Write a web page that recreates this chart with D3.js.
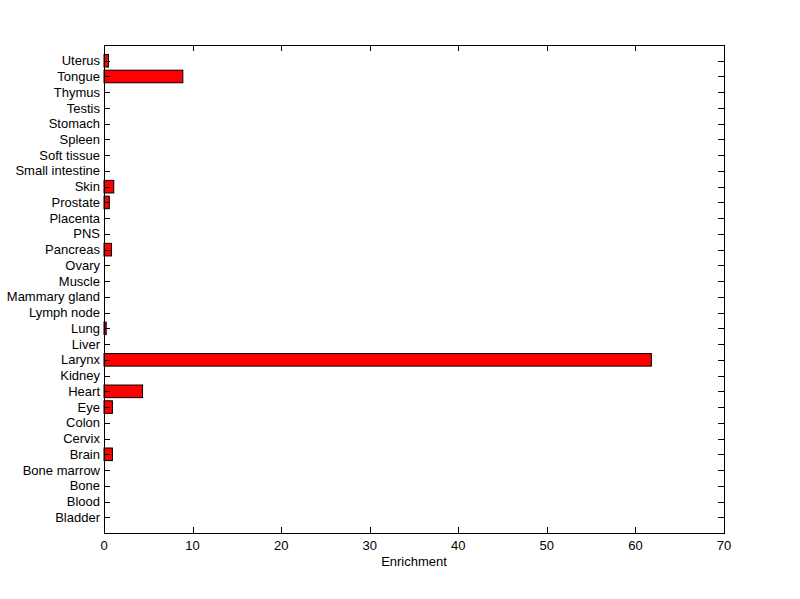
<!DOCTYPE html>
<html>
<head>
<meta charset="utf-8">
<script src="https://cdn.jsdelivr.net/npm/d3@7"></script>
<style>
  body { margin: 0; background: #fff; }
  text { font-family: "Liberation Sans", Arial, sans-serif; font-size: 13px; fill: #000; }
</style>
</head>
<body>
<div id="chart"></div>
<script>
// Categories, bottom to top
const tissues = ["Bladder", "Blood", "Bone", "Bone marrow", "Brain", "Cervix", "Colon", "Eye",
  "Heart", "Kidney", "Larynx", "Liver", "Lung", "Lymph node", "Mammary gland", "Muscle",
  "Ovary", "Pancreas", "PNS", "Placenta", "Prostate", "Skin", "Small intestine",
  "Soft tissue", "Spleen", "Stomach", "Testis", "Thymus", "Tongue", "Uterus"];
const enrichment = [0, 0, 0, 0, 0.95, 0, 0, 0.95,
  4.35, 0, 61.8, 0, 0.25, 0, 0, 0,
  0, 0.85, 0, 0, 0.6, 1.1, 0,
  0, 0, 0, 0, 0, 8.9, 0.5];
const xTicks = [0, 10, 20, 30, 40, 50, 60, 70];

const W = 800, H = 599;
const mLeft = 104, mRight = 724, mTop = 45, mBottom = 533;

const svg = d3.select("#chart").append("svg")
  .attr("width", W).attr("height", H);

const x = d3.scaleLinear().domain([0, 70]).range([mLeft, mRight]);
const y = d3.scaleLinear().domain([0, tissues.length + 1]).range([mBottom, mTop]);
const barH = (y(0) - y(0.8));

// bars
svg.selectAll("rect.bar")
  .data(enrichment)
  .enter()
  .append("rect")
  .attr("class", "bar")
  .attr("x", x(0))
  .attr("y", (d, i) => y(i + 1) - barH / 2)
  .attr("width", d => x(d) - x(0))
  .attr("height", barH)
  .attr("fill", "#ff0000")
  .attr("stroke", "#000")
  .attr("stroke-width", 1)
  .style("display", d => d > 0 ? null : "none");

// frame
svg.append("rect")
  .attr("x", mLeft + 0.5).attr("y", mTop + 0.5)
  .attr("width", mRight - mLeft).attr("height", mBottom - mTop)
  .attr("fill", "none").attr("stroke", "#000");

// x ticks (bottom and top, inward)
const xt = svg.append("g");
xTicks.forEach(t => {
  const px = Math.round(x(t)) + 0.5;
  xt.append("line").attr("x1", px).attr("x2", px).attr("y1", mBottom).attr("y2", mBottom - 6).attr("stroke", "#000");
  xt.append("line").attr("x1", px).attr("x2", px).attr("y1", mTop).attr("y2", mTop + 6).attr("stroke", "#000");
  xt.append("text").attr("x", x(t)).attr("y", mBottom + 17).attr("text-anchor", "middle").text(t);
});

// y ticks (left and right, inward) and labels
const yt = svg.append("g");
tissues.forEach((name, i) => {
  const py = Math.round(y(i + 1)) + 0.5;
  yt.append("line").attr("x1", mLeft).attr("x2", mLeft + 6).attr("y1", py).attr("y2", py).attr("stroke", "#000");
  yt.append("line").attr("x1", mRight).attr("x2", mRight - 6).attr("y1", py).attr("y2", py).attr("stroke", "#000");
  yt.append("text").attr("x", mLeft - 4).attr("y", y(i + 1)).attr("dy", "0.35em")
    .attr("text-anchor", "end").text(name);
});

svg.append("text")
  .attr("x", (mLeft + mRight) / 2).attr("y", 566)
  .attr("text-anchor", "middle").text("Enrichment");
</script>
</body>
</html>
